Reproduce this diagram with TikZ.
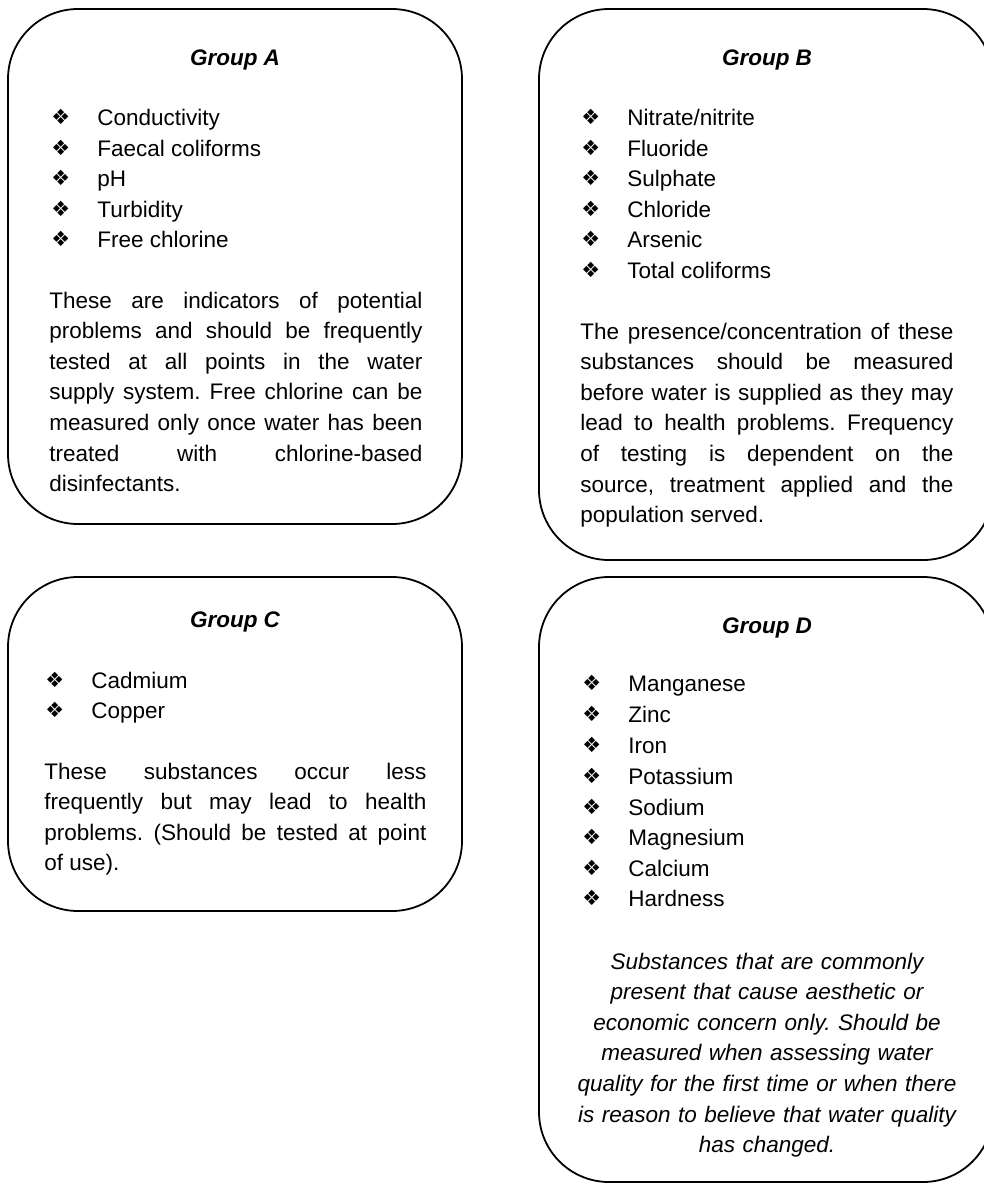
\documentclass[tikz,border=0pt]{standalone}
\usepackage{fontspec}
\setmainfont{Liberation Sans}
\newfontfamily\dingfont{DejaVu Sans}
\usetikzlibrary{positioning}
\newcommand{\bul}{\makebox[23pt][l]{\raisebox{0.2pt}{\dingfont\fontsize{10.5}{10.5}\selectfont ❖}}}
\newcommand{\bodyfont}{\fontsize{11.25}{15.3}\selectfont\frenchspacing}
\newcommand{\notesetup}{\tolerance=10000\relax\hyphenpenalty=10000\relax\exhyphenpenalty=10000\relax}

\begin{document}
\begin{tikzpicture}[x=0.5pt,y=-0.5pt,
    groupbox/.style={draw,line width=0.9pt,rounded corners=35pt},
    grouptitle/.style={anchor=base,inner sep=0pt,font=\bodyfont\bfseries\itshape},
    listitem/.style={anchor=base west,inner sep=0pt,font=\bodyfont},
    groupnote/.style={anchor=base west,inner sep=0pt,text width=186.5pt,align=justify,
      font=\bodyfont\notesetup}]
  \useasboundingbox (0,0) rectangle (984,1184);
  \clip (0,0) rectangle (984,1184);
  %% Group A
  \draw[groupbox] (8,9) rectangle (462,524);
  \node[grouptitle] (titleA) at (235,65) {Group A};
  \node[listitem] (itemA1) at (51,125) {\bul Conductivity};
  \node[listitem] (itemA2) at (51,156) {\bul Faecal coliforms};
  \node[listitem] (itemA3) at (51,186) {\bul pH};
  \node[listitem] (itemA4) at (51,217) {\bul Turbidity};
  \node[listitem] (itemA5) at (51,247) {\bul Free chlorine};
  \node[groupnote] (noteA) at (49,308)
    {These are indicators of potential\linebreak
     problems and should be frequently\linebreak
     tested at all points in the water\linebreak
     supply system. Free chlorine can be\linebreak
     measured only once water has been\linebreak
     treated with chlorine-based\linebreak
     disinfectants.};
  %% Group B
  \draw[groupbox] (539,9) rectangle (993,560);
  \node[grouptitle] (titleB) at (767,65) {Group B};
  \node[listitem] (itemB1) at (581,125) {\bul Nitrate/nitrite};
  \node[listitem] (itemB2) at (581,156) {\bul Fluoride};
  \node[listitem] (itemB3) at (581,186) {\bul Sulphate};
  \node[listitem] (itemB4) at (581,217) {\bul Chloride};
  \node[listitem] (itemB5) at (581,247) {\bul Arsenic};
  \node[listitem] (itemB6) at (581,278) {\bul Total coliforms};
  \node[groupnote] (noteB) at (580,339)
    {The presence/concentration of these\linebreak
     substances should be measured\linebreak
     before water is supplied as they may\linebreak
     lead to health problems. Frequency\linebreak
     of testing is dependent on the\linebreak
     source, treatment applied and the\linebreak
     population served.};
  %% Group C
  \draw[groupbox] (8,577) rectangle (462,911);
  \node[grouptitle] (titleC) at (235,627) {Group C};
  \node[listitem] (itemC1) at (45,688) {\bul Cadmium};
  \node[listitem] (itemC2) at (45,718) {\bul Copper};
  \node[groupnote,text width=191pt] (noteC) at (44,779)
    {These substances occur less\linebreak
     frequently but may lead to health\linebreak
     problems. (Should be tested at point\linebreak
     of use).};
  %% Group D
  \draw[groupbox] (539,577) rectangle (993,1182);
  \node[grouptitle] (titleD) at (767,633) {Group D};
  \node[listitem] (itemD1) at (582,691) {\bul Manganese};
  \node[listitem] (itemD2) at (582,722) {\bul Zinc};
  \node[listitem] (itemD3) at (582,753) {\bul Iron};
  \node[listitem] (itemD4) at (582,784) {\bul Potassium};
  \node[listitem] (itemD5) at (582,815) {\bul Sodium};
  \node[listitem] (itemD6) at (582,845) {\bul Magnesium};
  \node[listitem] (itemD7) at (582,876) {\bul Calcium};
  \node[listitem] (itemD8) at (582,906) {\bul Hardness};
  \node[anchor=base,inner sep=0pt,text width=200pt,align=center,font=\bodyfont\itshape]
    (noteD) at (767,969)
    {Substances that are commonly\\
     present that cause aesthetic or\\
     economic concern only. Should be\\
     measured when assessing water\\
     quality for the first time or when there\\
     is reason to believe that water quality\\
     has changed.};
\end{tikzpicture}
\end{document}
